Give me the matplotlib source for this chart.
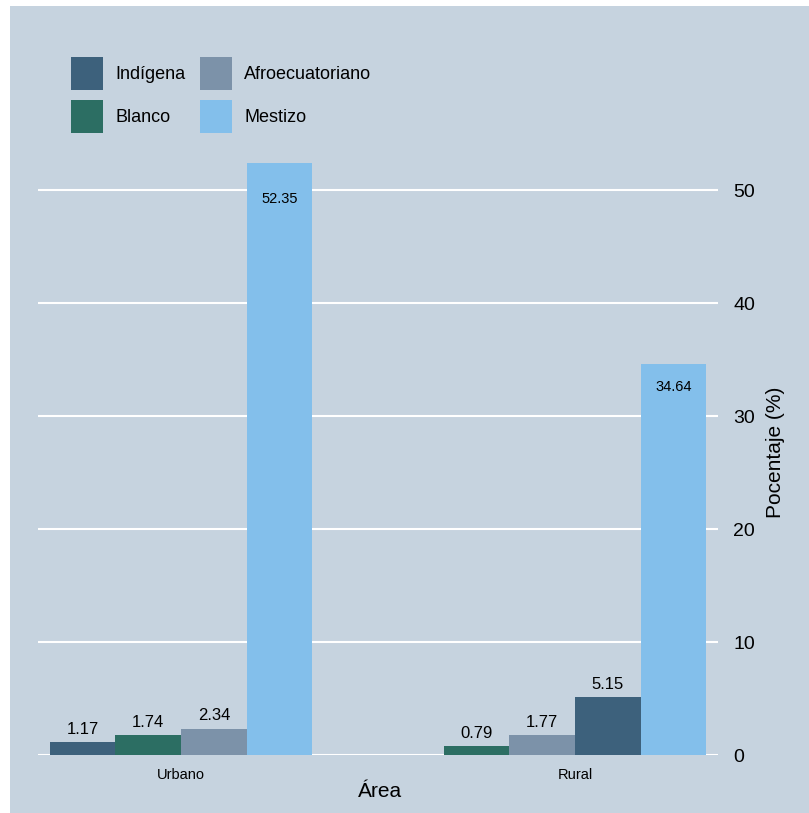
import numpy as np
import matplotlib.pyplot as plt
from matplotlib.patches import Rectangle, Patch

# datos (porcentaje por área y autoidentificación étnica)
areas = ["Urbano", "Rural"]
grupos = ["Indígena", "Blanco", "Afroecuatoriano", "Mestizo"]
valores = {
    "Urbano": {"Indígena": 1.17, "Blanco": 1.74, "Afroecuatoriano": 2.34, "Mestizo": 52.35},
    "Rural": {"Indígena": 5.15, "Blanco": 0.79, "Afroecuatoriano": 1.77, "Mestizo": 34.64},
}
colores = {
    "Indígena": "#3d617c",
    "Blanco": "#2c6e63",
    "Afroecuatoriano": "#7c92a9",
    "Mestizo": "#83bfeb",
}
fondo = "#c6d3df"

plt.rcParams['font.family'] = ['Liberation Sans', 'DejaVu Sans']

fig = plt.figure(figsize=(8.09, 8.13), dpi=100, facecolor="white")
# panel gris con un borde blanco arriba y a la izquierda
fig.patches.append(Rectangle((10 / 809, 0), 1, 1 - 6 / 813, transform=fig.transFigure,
                             facecolor=fondo, edgecolor="none", zorder=-10))

ax = fig.add_axes([38 / 809, 1 - 755 / 813, 680 / 809, 621.5 / 813])
ax.set_facecolor(fondo)

ancho = 1 / 6
for i, area in enumerate(areas):
    # barras ordenadas de menor a mayor dentro de cada área
    orden = sorted(grupos, key=lambda g: valores[area][g])
    for j, g in enumerate(orden):
        v = valores[area][g]
        x = i + (j - 1.5) * ancho
        ax.bar(x, v, width=ancho, color=colores[g], zorder=3)
        if g == "Mestizo":
            ax.text(x, v * 0.94, f"{v:.2f}", ha="center", va="center", fontsize=10.5, zorder=4)
        else:
            ax.text(x, v + 0.45, f"{v:.2f}", ha="center", va="bottom", fontsize=12, zorder=4)

ax.set_xlim(-0.363, 1.363)
ax.set_ylim(0, 55)
ax.set_xticks(range(len(areas)))
ax.set_xticklabels(areas, fontsize=10.5)
ax.set_yticks([0, 10, 20, 30, 40, 50])
ax.yaxis.tick_right()
ax.tick_params(axis="y", length=0, pad=11, labelsize=14)
ax.tick_params(axis="x", length=0, pad=9)
ax.grid(axis="y", color="white", linewidth=1.5, zorder=1)
ax.set_axisbelow(True)
for s in ax.spines.values():
    s.set_visible(False)

ax.set_xlabel("Área", fontsize=15)
ax.xaxis.set_label_coords(0.503, -0.043)
ax.yaxis.set_label_position("right")
ax.set_ylabel("Pocentaje (%)", fontsize=15)
ax.yaxis.set_label_coords(1.07, 0.487)

handles = [Patch(facecolor=colores[g], edgecolor="none", label=g) for g in grupos]
fig.legend(handles=handles, ncol=2, loc="upper left", bbox_to_anchor=(71 / 809, 1 - 57 / 813),
           frameon=False, fontsize=13, handlelength=1.78, handleheight=2.45,
           handletextpad=0.67, labelspacing=0.52, columnspacing=0.8,
           borderpad=0, borderaxespad=0)

fig.savefig("out.png", dpi=100, facecolor=fig.get_facecolor())
